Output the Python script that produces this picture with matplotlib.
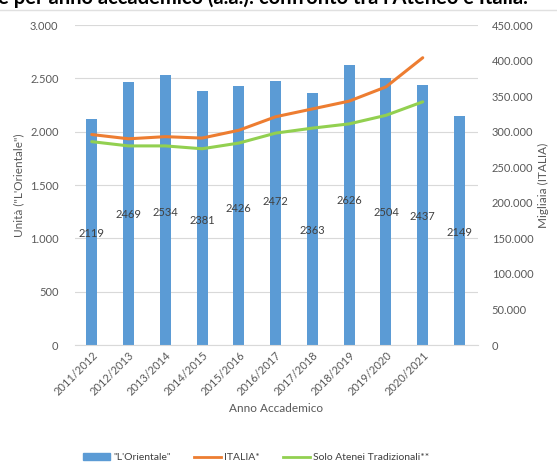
import matplotlib
matplotlib.use("Agg")
import matplotlib.pyplot as plt
from matplotlib.patches import Patch
from matplotlib.lines import Line2D
from matplotlib.ticker import FuncFormatter
import numpy as np

plt.rcParams['font.family'] = ['Lato', 'DejaVu Sans']

# data
anni = ['2011/2012', '2012/2013', '2013/2014', '2014/2015', '2015/2016',
        '2016/2017', '2017/2018', '2018/2019', '2019/2020', '2020/2021']
orientale = [2119, 2469, 2534, 2381, 2426, 2472, 2363, 2626, 2504, 2437, 2149]
italia = [296000, 290000, 293000, 291000, 302000, 321000, 332000, 343000, 363000, 404000]
tradizionali = [286000, 280000, 280000, 276000, 284000, 298000, 305000, 311000, 323000, 342000]
# heights (left-axis units) where the data labels sit in the original
label_y = [1041, 1228, 1247, 1172, 1284, 1350, 1069, 1359, 1238, 1209, 1059]

GRAY = '#595959'
BLUE = '#5B9BD5'
ORANGE = '#ED7D31'
GREEN = '#92D050'

fig = plt.figure(figsize=(5.57, 4.72), dpi=100)
ax = fig.add_axes([0.135, 0.269, 0.723, 0.678])
ax2 = ax.twinx()

x = np.arange(len(orientale))
ax.bar(x, orientale, width=0.3, color=BLUE, zorder=2)
for xi, v, ly in zip(x, orientale, label_y):
    ax.text(xi, ly, str(v), ha='center', va='center', fontsize=8, color='#404040', zorder=3)

xl = np.arange(len(italia))
ax2.plot(xl, italia, color=ORANGE, lw=2.2, solid_capstyle='round')
ax2.plot(xl, tradizionali, color=GREEN, lw=2.2, solid_capstyle='round')

ax.set_xlim(-0.45, 10.5)
ax.set_ylim(0, 3000)
ax2.set_ylim(0, 450000)
ax.set_yticks(np.arange(0, 3001, 500))
ax2.set_yticks(np.arange(0, 450001, 50000))
fmt = FuncFormatter(lambda v, p: f'{int(v):,}'.replace(',', '.'))
ax.yaxis.set_major_formatter(fmt)
ax2.yaxis.set_major_formatter(fmt)

ax.set_xticks(np.arange(len(anni)))
ax.set_xticklabels(anni, rotation=45, ha='right', rotation_mode='anchor', fontsize=8, color=GRAY)

ax.grid(axis='y', color='#D9D9D9', lw=0.8, zorder=0)
ax.set_axisbelow(True)
for a in (ax, ax2):
    for s in a.spines.values():
        s.set_visible(False)
    a.tick_params(length=0, labelsize=8, colors=GRAY)
ax.spines['bottom'].set_visible(True)
ax.spines['bottom'].set_color('#D9D9D9')
ax.tick_params(axis='y', pad=12)
ax2.tick_params(axis='y', pad=10)

ax.set_ylabel('Unità ("L\'Orientale")', fontsize=8.5, color=GRAY, labelpad=4)
ax2.set_ylabel('Migliaia (ITALIA)', fontsize=8.5, color=GRAY, labelpad=3)
ax.set_xlabel('Anno Accademico', fontsize=8.5, color=GRAY, labelpad=4)

handles = [Patch(color=BLUE), Line2D([], [], color=ORANGE, lw=2), Line2D([], [], color=GREEN, lw=2)]
labels = ['"L\'Orientale"', 'ITALIA*', 'Solo Atenei Tradizionali**']
fig.legend(handles, labels, loc='center', bbox_to_anchor=(0.46, 0.03), ncol=3, frameon=False,
           fontsize=7.5, labelcolor='#404040', handlelength=2.6, handleheight=0.6,
           columnspacing=2.2, handletextpad=0.3)

# truncated title at the very top
fig.text(-0.012, 1 - 4 / 472, "le per anno accademico (a.a.): confronto tra l'Ateneo e Italia.",
         fontsize=14.5, fontweight='bold', color='black', ha='left', va='baseline')
fig.add_artist(Line2D([0, 1], [0.978, 0.978], transform=fig.transFigure, color='#E0E0E0', lw=1))

fig.savefig('out.png', dpi=100)
